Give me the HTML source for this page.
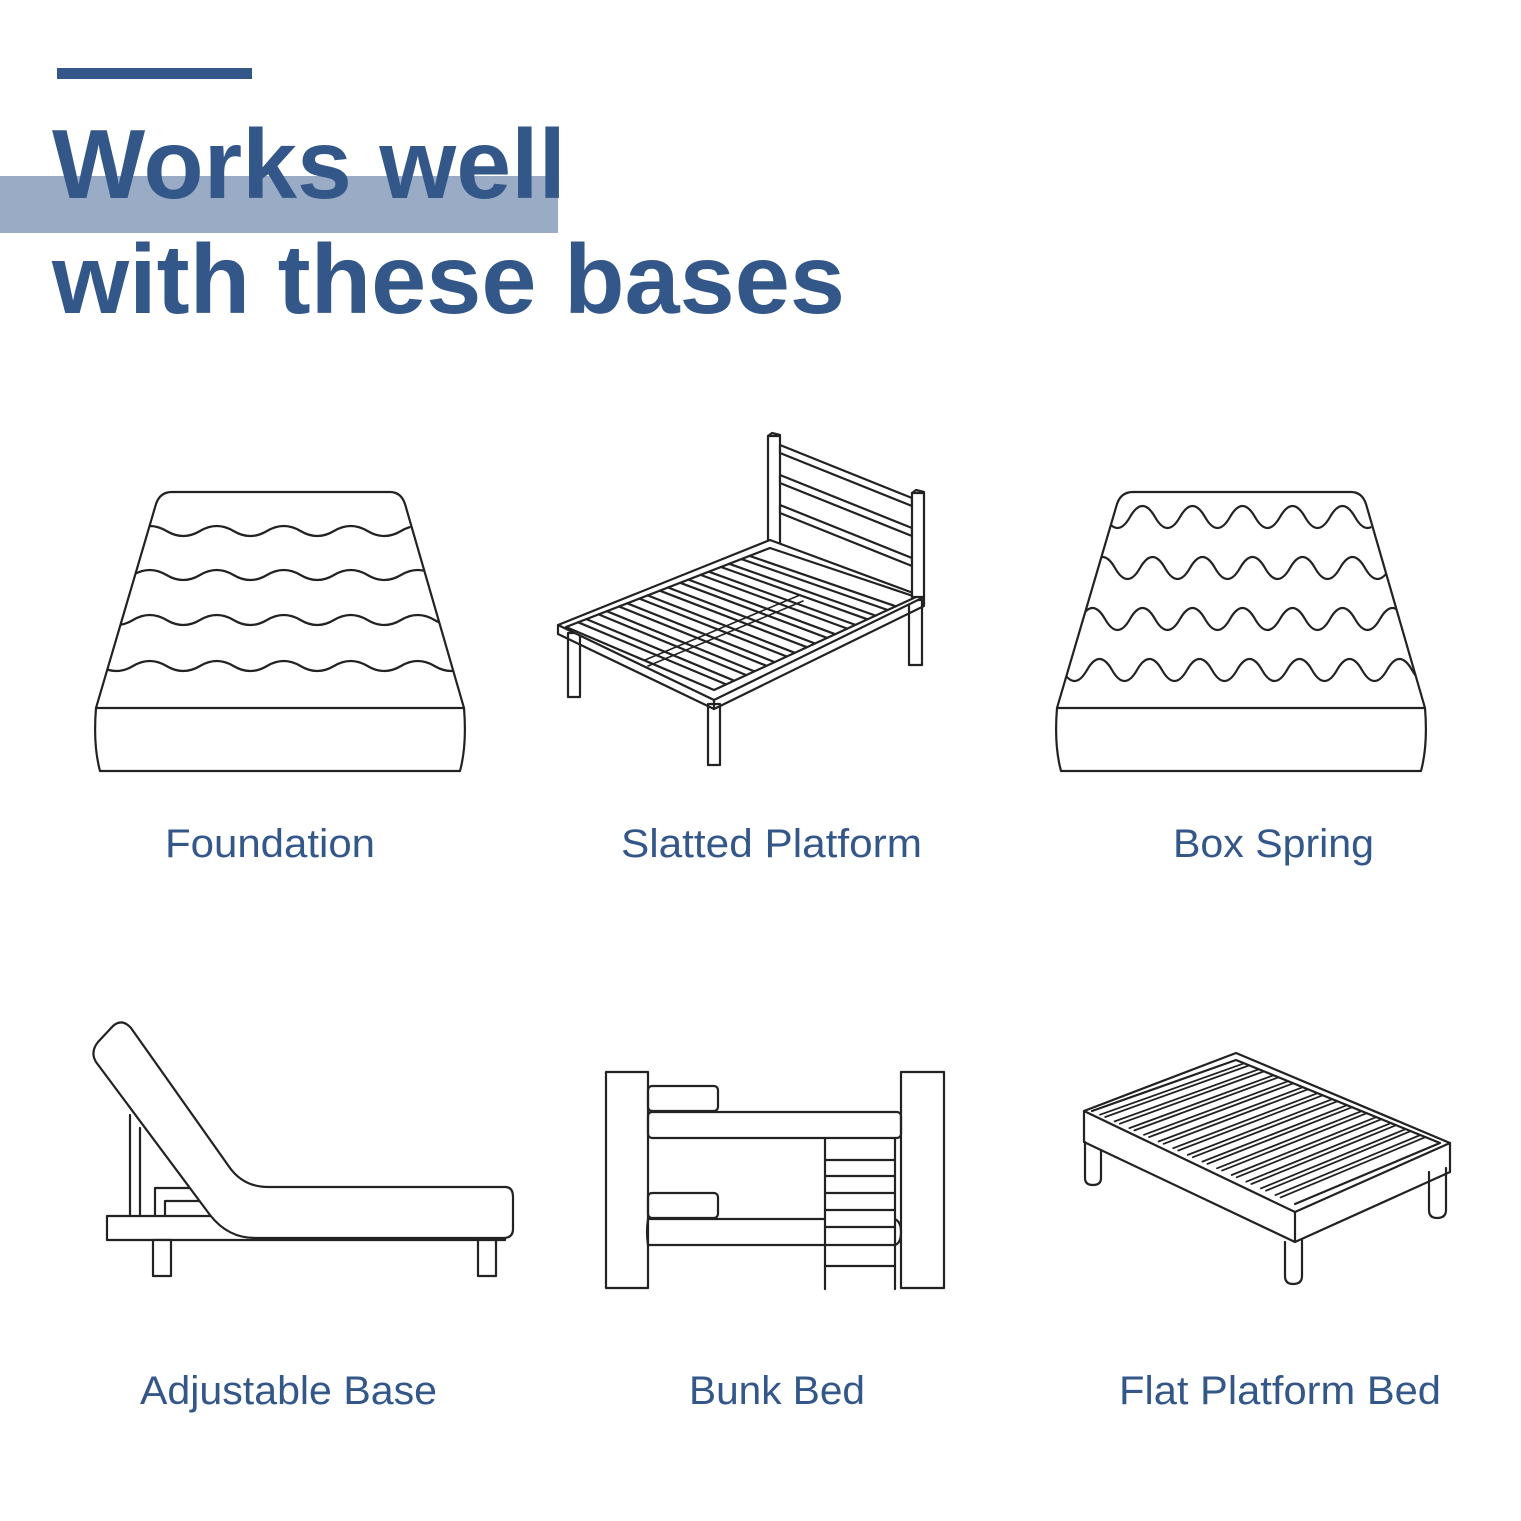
<!DOCTYPE html>
<html><head><meta charset="utf-8"><style>
html,body{margin:0;padding:0;background:#fff;}
svg{display:block;}
</style></head><body>
<svg width="1521" height="1521" viewBox="0 0 1521 1521" xmlns="http://www.w3.org/2000/svg">
<defs>
<clipPath id="cf"><polygon points="160,492 400,492 464,708 96,708"/></clipPath>
<clipPath id="cb"><polygon points="1121,492 1361,492 1425,708 1057,708"/></clipPath>
</defs>
<rect width="1521" height="1521" fill="#fff"/>
<rect x="57" y="68" width="195" height="11" fill="#34578a"/>
<rect x="0" y="176" width="558" height="57" fill="#9aabc5"/>
<g font-family="Liberation Sans, sans-serif" font-weight="bold" font-size="98" fill="#34578a">
<text x="52" y="198" textLength="514" lengthAdjust="spacingAndGlyphs">Works well</text>
<text x="52" y="313" textLength="793" lengthAdjust="spacingAndGlyphs">with these bases</text>
</g>
<g font-family="Liberation Sans, sans-serif" font-size="40" fill="#34578a">
<text x="165" y="857" textLength="210" lengthAdjust="spacingAndGlyphs">Foundation</text>
<text x="621" y="857" textLength="301" lengthAdjust="spacingAndGlyphs">Slatted Platform</text>
<text x="1173" y="857" textLength="201" lengthAdjust="spacingAndGlyphs">Box Spring</text>
<text x="140" y="1404" textLength="297" lengthAdjust="spacingAndGlyphs">Adjustable Base</text>
<text x="689" y="1404" textLength="176" lengthAdjust="spacingAndGlyphs">Bunk Bed</text>
<text x="1119" y="1404" textLength="322" lengthAdjust="spacingAndGlyphs">Flat Platform Bed</text>
</g>
<g fill="none" stroke="#222" stroke-width="2.2" stroke-linejoin="round" stroke-linecap="round">
<!-- Foundation -->
<path d="M96,708 L156,504 Q160,492 172,492 L390,492 Q401,492 405,504 L464,708 Z"/>
<path d="M96,708 Q93,745 100,771 L460,771 Q467,745 464,708"/>
<g clip-path="url(#cf)">
<path d="M66,531 q16.75,-10 33.5,0 t33.5,0 t33.5,0 t33.5,0 t33.5,0 t33.5,0 t33.5,0 t33.5,0 t33.5,0 t33.5,0 t33.5,0 t33.5,0 t33.5,0 t33.5,0"/>
<path d="M66,575 q16.75,-10 33.5,0 t33.5,0 t33.5,0 t33.5,0 t33.5,0 t33.5,0 t33.5,0 t33.5,0 t33.5,0 t33.5,0 t33.5,0 t33.5,0 t33.5,0 t33.5,0"/>
<path d="M66,620 q16.75,-10 33.5,0 t33.5,0 t33.5,0 t33.5,0 t33.5,0 t33.5,0 t33.5,0 t33.5,0 t33.5,0 t33.5,0 t33.5,0 t33.5,0 t33.5,0 t33.5,0"/>
<path d="M66,666 q16.75,-10 33.5,0 t33.5,0 t33.5,0 t33.5,0 t33.5,0 t33.5,0 t33.5,0 t33.5,0 t33.5,0 t33.5,0 t33.5,0 t33.5,0 t33.5,0 t33.5,0"/>
</g>
<!-- Box spring -->
<path d="M1057,708 L1117,504 Q1121,492 1133,492 L1351,492 Q1362,492 1366,504 L1425,708 Z"/>
<path d="M1057,708 Q1054,745 1061,771 L1421,771 Q1428,745 1425,708"/>
<g clip-path="url(#cb)">
<path d="M1030,517 q12.5,-22 25,0 t25,0 t25,0 t25,0 t25,0 t25,0 t25,0 t25,0 t25,0 t25,0 t25,0 t25,0 t25,0 t25,0 t25,0 t25,0 t25,0 t25,0"/>
<path d="M1040,568 q12.5,-22 25,0 t25,0 t25,0 t25,0 t25,0 t25,0 t25,0 t25,0 t25,0 t25,0 t25,0 t25,0 t25,0 t25,0 t25,0 t25,0 t25,0 t25,0"/>
<path d="M1030,619 q12.5,-22 25,0 t25,0 t25,0 t25,0 t25,0 t25,0 t25,0 t25,0 t25,0 t25,0 t25,0 t25,0 t25,0 t25,0 t25,0 t25,0 t25,0 t25,0"/>
<path d="M1037,670 q12.5,-22 25,0 t25,0 t25,0 t25,0 t25,0 t25,0 t25,0 t25,0 t25,0 t25,0 t25,0 t25,0 t25,0 t25,0 t25,0 t25,0 t25,0 t25,0"/>
</g>
<!-- Slatted platform -->
<rect x="768" y="436" width="12" height="112" fill="#fff"/>
<path d="M768,436 l4,-3 l8,2"/>
<path d="M780,445 L912,498 L912,506 L780,453 Z" fill="#fff"/>
<path d="M780,475 L912,528 L912,536 L780,483 Z" fill="#fff"/>
<path d="M780,505 L912,558 L912,566 L780,513 Z" fill="#fff"/>
<rect x="742" y="615" width="11" height="54" fill="#fff"/>
<rect x="568" y="633" width="12" height="64" fill="#fff"/>
<rect x="909" y="600" width="13" height="65" fill="#fff"/>
<rect x="708" y="704" width="12" height="61" fill="#fff"/>
<path d="M558,625 L770,540 L924,597 L714,700 Z" fill="#fff"/>
<path d="M558,625 L558,634 L714,709 L924,606 L924,597"/>
<path d="M714,700 L714,709"/>
<path d="M566,627 L770,548 L916,597 L714,690 Z"/>
<path d="M578.2,622.3 L726.1,684.4 M586.4,619.1 L734.2,680.7 M598.6,614.4 L746.3,675.1 M606.8,611.2 L754.4,671.4 M619,606.5 L766.5,665.8 M627.2,603.3 L774.6,662.1 M639.4,598.6 L786.7,656.5 M647.6,595.4 L794.8,652.8 M659.8,590.7 L806.9,647.2 M668,587.5 L815,643.5 M680.2,582.8 L827.1,637.9 M688.4,579.6 L835.2,634.2 M700.6,574.9 L847.3,628.6 M708.8,571.7 L855.4,624.9 M721,567 L867.5,619.3 M729.2,563.8 L875.6,615.6 M741.4,559.1 L887.7,610 M749.6,555.9 L895.8,606.3"/>
<path d="M645,660 L800,595 M648,666 L803,601" stroke-width="1.6"/>
<rect x="912" y="493" width="12" height="104" fill="#fff"/>
<path d="M912,493 l4,-3 l8,2"/>
<!-- Adjustable base -->
<path d="M130,1115 L130,1216 M140,1128 L140,1216"/>
<path d="M155,1216 L155,1188 L200,1188 M165,1216 L165,1201 L205,1201"/>
<rect x="107" y="1216" width="398" height="24" fill="#fff"/>
<rect x="153" y="1240" width="18" height="36" fill="#fff"/>
<rect x="478" y="1240" width="18" height="36" fill="#fff"/>
<path d="M113,1026 Q122,1018 131,1028 L230,1168 Q244,1187 268,1187 L505,1187 Q513,1187 513,1197 L513,1229 Q513,1238 503,1238 L255,1238 Q228,1238 210,1215 L96,1062 Q90,1052 98,1042 Z" fill="#fff"/>
<!-- Bunk bed -->
<rect x="606" y="1072" width="42" height="216"/>
<rect x="901" y="1072" width="43" height="216"/>
<rect x="648" y="1086" width="70" height="25" rx="4"/>
<rect x="648" y="1112" width="253" height="26" rx="4"/>
<rect x="648" y="1193" width="70" height="25" rx="4"/>
<path d="M648,1219 L825,1219 M648,1245 L895,1245 M648,1219 Q646,1232 648,1245"/>
<path d="M895,1219 Q901,1222 901,1232 Q901,1243 895,1245"/>
<path d="M825,1138 L825,1289 M895,1138 L895,1289"/>
<path d="M825,1160 L895,1160 M825,1176 L895,1176 M825,1193 L895,1193 M825,1210 L895,1210 M825,1227 L895,1227 M825,1266 L895,1266"/>
<!-- Flat platform bed -->
<path d="M1085,1142 L1085,1178 Q1085,1185 1093,1185 Q1101,1185 1101,1178 L1101,1150" fill="#fff"/>
<path d="M1285,1242 L1285,1276 Q1285,1284 1293,1284 Q1302,1284 1302,1276 L1302,1240" fill="#fff"/>
<path d="M1429,1172 L1429,1210 Q1429,1218 1437,1218 Q1446,1218 1446,1210 L1446,1168" fill="#fff"/>
<path d="M1084,1111 L1236,1053 L1450,1143 L1295,1212 Z" fill="#fff"/>
<path d="M1084,1111 L1084,1142 L1295,1242 L1450,1172 L1450,1143 M1295,1212 L1295,1242"/>
<path d="M1092,1111 L1236,1060 L1440,1143 L1295,1204"/>
<path d="M1100.1,1114.7 L1244.2,1063.3 M1105.2,1117 L1249.3,1065.4 M1114.7,1121.4 L1258.8,1069.3 M1119.8,1123.7 L1263.9,1071.4 M1129.4,1128.1 L1273.5,1075.3 M1134.4,1130.4 L1278.6,1077.3 M1144,1134.8 L1288.2,1081.2 M1149,1137.1 L1293.3,1083.3 M1158.6,1141.5 L1302.9,1087.2 M1163.7,1143.8 L1308,1089.3 M1173.2,1148.2 L1317.6,1093.2 M1178.3,1150.5 L1322.7,1095.3 M1187.8,1154.9 L1332.3,1099.2 M1192.9,1157.2 L1337.4,1101.3 M1202.4,1161.6 L1347,1105.2 M1207.5,1163.9 L1352.1,1107.2 M1217,1168.3 L1361.7,1111.1 M1222.1,1170.6 L1366.8,1113.2 M1231.7,1175 L1376.4,1117.1 M1236.7,1177.3 L1381.5,1119.2 M1246.3,1181.7 L1391,1123.1 M1251.4,1184 L1396.1,1125.2 M1260.9,1188.4 L1405.7,1129.1 M1266,1190.7 L1410.8,1131.1 M1275.5,1195.1 L1420.4,1135 M1280.6,1197.4 L1425.5,1137.1" stroke-width="1.8"/>
</g>
</svg>
</body></html>
